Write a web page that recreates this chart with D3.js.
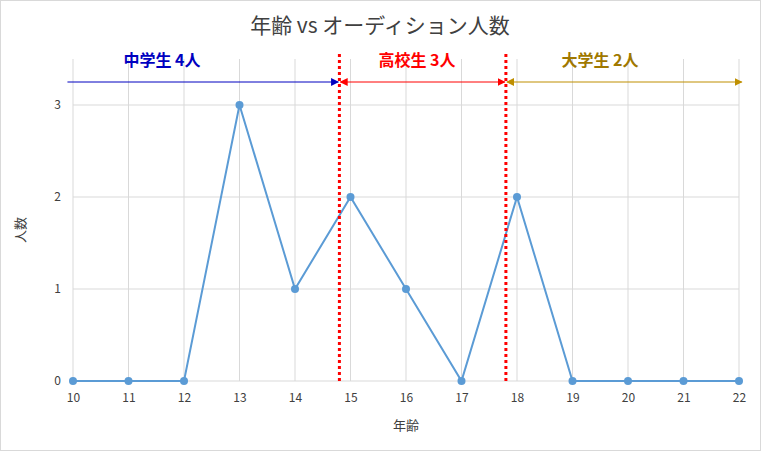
<!DOCTYPE html>
<html>
<head>
<meta charset="utf-8">
<script src="https://d3js.org/d3.v7.min.js"></script>
<style>
  body { margin: 0; background: #fff; }
  text { font-family: "Noto Sans CJK JP", "Noto Sans", sans-serif; }
</style>
</head>
<body>
<div id="chart"></div>
<script>
const ages = [10, 11, 12, 13, 14, 15, 16, 17, 18, 19, 20, 21, 22];
const counts = [0, 0, 0, 3, 1, 2, 1, 0, 2, 0, 0, 0, 0];
const yTicks = [0, 1, 2, 3];
const dividers = [14.8, 17.8];
const groups = [
    { label: "中学生 4人", from: 9.9, to: 14.78, color: "#0000c0", dir: "end" },
    { label: "高校生 3人", from: 14.82, to: 17.78, color: "#ff0000", dir: "both" },
    { label: "大学生 2人", from: 17.82, to: 22.05, color: "#a07800", dir: "both" }
];
const arrowColors = ["#0000c0", "#ff0000", "#bf8f00"];

const W = 761, H = 451;
const margin = { top: 59, right: 22, bottom: 70, left: 73 };
const width = W - margin.left - margin.right;
const height = H - margin.top - margin.bottom;

const root = d3.select("#chart").append("svg").attr("width", W).attr("height", H);
root.append("rect").attr("x", 0.5).attr("y", 0.5).attr("width", W - 1).attr("height", H - 1)
    .attr("fill", "#fff").attr("stroke", "#d9d9d9");

const defs = root.append("defs");
groups.forEach((g, i) => {
    defs.append("marker").attr("id", "arr" + i).attr("viewBox", "0 0 10 10")
        .attr("refX", 9).attr("refY", 5).attr("markerWidth", 8).attr("markerHeight", 8)
        .attr("orient", "auto-start-reverse")
        .append("path").attr("d", "M0,0L10,5L0,10Z").attr("fill", arrowColors[i]);
});

const svg = root.append("g").attr("transform", `translate(${margin.left},${margin.top})`);

const x = d3.scaleLinear().domain([10, 22]).range([0, width]);
const y = d3.scaleLinear().domain([0, 3.5]).range([height, 0]);

// gridlines
svg.append("g").selectAll("line").data(ages).enter().append("line")
    .attr("x1", d => x(d)).attr("x2", d => x(d)).attr("y1", 0).attr("y2", height)
    .attr("stroke", "#d9d9d9");
svg.append("g").selectAll("line").data(yTicks).enter().append("line")
    .attr("x1", 0).attr("x2", width).attr("y1", d => y(d)).attr("y2", d => y(d))
    .attr("stroke", "#d9d9d9");

// axes
const xAxis = svg.append("g").attr("transform", `translate(0,${height})`)
    .call(d3.axisBottom(x).tickValues(ages).tickSize(0).tickPadding(12));
const yAxis = svg.append("g").call(d3.axisLeft(y).tickValues(yTicks).tickFormat(d3.format("d")).tickSize(0).tickPadding(12));
[xAxis, yAxis].forEach(a => {
    a.select(".domain").remove();
    a.selectAll("text").attr("fill", "#404040").attr("font-size", 12);
});

// line + points
svg.append("path").datum(ages.map((a, i) => [a, counts[i]]))
    .attr("fill", "none").attr("stroke", "#5b9bd5").attr("stroke-width", 2)
    .attr("d", d3.line().x(d => x(d[0])).y(d => y(d[1])));
svg.selectAll(".pt").data(ages.map((a, i) => [a, counts[i]])).enter().append("circle")
    .attr("cx", d => x(d[0])).attr("cy", d => y(d[1])).attr("r", 4).attr("fill", "#5b9bd5");

// dividers
svg.selectAll(".div").data(dividers).enter().append("line")
    .attr("x1", d => x(d)).attr("x2", d => x(d)).attr("y1", -5).attr("y2", height)
    .attr("stroke", "#ff0000").attr("stroke-width", 3).attr("stroke-dasharray", "3,3");

// group arrows
const arrowY = 82 - margin.top;
groups.forEach((g, i) => {
    const ln = svg.append("line").attr("x1", x(g.from)).attr("x2", x(g.to))
        .attr("y1", arrowY).attr("y2", arrowY).attr("stroke", arrowColors[i]).attr("stroke-width", 1)
        .attr("marker-end", `url(#arr${i})`);
    if (g.dir === "both") ln.attr("marker-start", `url(#arr${i})`);
});
const labelX = [162, 417, 600];
groups.forEach((g, i) => {
    root.append("text").attr("x", labelX[i]).attr("y", 66).attr("text-anchor", "middle")
        .attr("font-size", 16).attr("font-weight", "bold").attr("fill", g.color).text(g.label);
});

// titles
root.append("text").attr("x", 380).attr("y", 33).attr("text-anchor", "middle")
    .attr("font-size", 21).attr("fill", "#404040").text("年齢 vs オーディション人数");
root.append("text").attr("x", margin.left + width / 2).attr("y", 430).attr("text-anchor", "middle")
    .attr("font-size", 13).attr("fill", "#404040").text("年齢");
root.append("text").attr("transform", "translate(25,230) rotate(-90)").attr("text-anchor", "middle")
    .attr("font-size", 13).attr("fill", "#404040").text("人数");
</script>
</body>
</html>
